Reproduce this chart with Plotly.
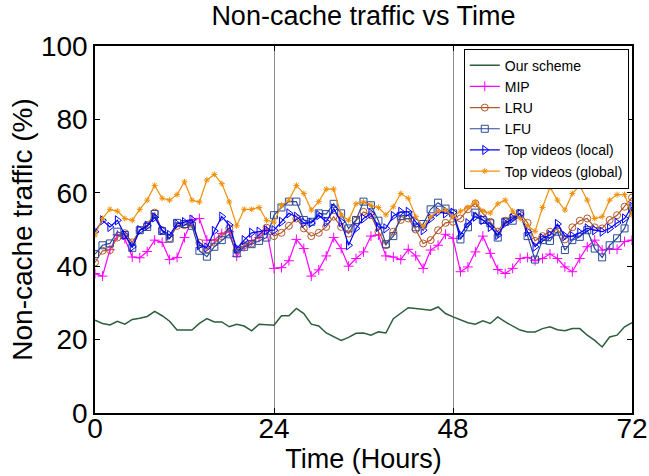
import plotly.graph_objects as go

hours = list(range(0, 73))

our_scheme = [25.3, 24.4, 24.0, 25.0, 24.2, 25.5, 25.8, 26.3, 27.7, 26.5, 25.0, 22.6, 22.6,
              22.6, 24.4, 25.7, 24.8, 24.8, 23.5, 24.2, 23.7, 22.4, 24.2, 24.0, 23.9,
              26.5, 26.5, 28.5, 27.1, 24.2, 23.7, 21.8, 20.7, 19.8, 20.6, 21.7, 21.8,
              21.2, 22.1, 21.8, 25.7, 27.3, 28.7, 28.5, 28.2, 28.0, 28.9, 27.1, 26.2,
              25.4, 24.6, 24.2, 25.1, 24.4, 26.2, 24.8, 23.7, 22.6, 22.1, 22.1, 23.0,
              23.5, 22.7, 22.4, 23.0, 23.0, 21.2, 19.8, 18.0, 20.7, 21.2, 23.5, 24.6]

mip = [38.0, 37.3, 44.5, 48.5, 47.5, 42.5, 42.3, 44.0, 47.1, 46.5, 41.8, 42.4, 47.8,
       52.6, 53.0, 47.1, 47.1, 48.9, 49.4, 42.7, 45.3, 46.9, 47.8, 49.8, 39.4,
       39.6, 41.5, 47.3, 44.8, 37.3, 39.0, 42.8, 47.8, 44.8, 40.0, 42.1, 43.9,
       48.2, 48.5, 42.8, 42.5, 41.8, 44.6, 42.8, 39.4, 44.4, 45.7, 48.7, 47.6,
       38.5, 39.8, 43.9, 48.2, 43.5, 39.1, 38.0, 39.4, 42.1, 42.4, 41.5, 42.1,
       43.3, 42.1, 39.8, 38.5, 42.1, 45.3, 47.1, 44.4, 44.6, 44.6, 46.7, 47.1]

lru = [41.0, 44.2, 44.4, 47.8, 49.0, 46.5, 49.8, 51.2, 54.6, 49.8, 47.6, 51.0, 51.2,
       51.5, 46.4, 44.6, 46.4, 48.2, 50.3, 44.4, 45.7, 46.2, 48.5, 50.5, 48.2,
       49.1, 51.0, 53.0, 50.3, 48.2, 49.1, 50.7, 53.5, 50.7, 48.9, 52.4, 54.8,
       53.9, 49.4, 45.7, 49.4, 52.6, 53.0, 50.0, 46.2, 47.1, 49.8, 51.8, 52.1,
       53.0, 55.5, 57.1, 54.4, 52.1, 49.4, 52.4, 53.5, 54.4, 51.8, 46.9, 48.2,
       49.4, 50.0, 47.3, 50.6, 52.4, 53.0, 50.6, 50.3, 52.6, 53.9, 56.2, 58.7]

lfu = [43.3, 45.7, 46.2, 49.4, 48.5, 45.0, 49.8, 50.7, 54.2, 49.6, 47.5, 51.8, 51.5,
       51.0, 44.2, 42.6, 45.3, 47.1, 48.7, 43.5, 45.3, 46.0, 46.9, 47.8, 53.9,
       56.0, 57.6, 57.6, 52.6, 52.1, 54.4, 54.2, 57.0, 54.4, 50.3, 52.6, 57.6,
       56.6, 52.4, 46.0, 48.2, 53.7, 53.9, 50.6, 51.5, 55.5, 57.3, 55.7, 54.4,
       47.3, 50.6, 54.6, 52.6, 51.7, 47.8, 52.1, 52.4, 54.4, 48.2, 41.8, 47.1,
       46.9, 49.4, 44.4, 47.1, 48.0, 49.8, 44.8, 42.4, 45.7, 47.6, 50.3, 55.7]

top_local = [49.4, 52.5, 50.7, 52.5, 48.5, 45.3, 49.8, 51.0, 53.3, 49.8, 48.5, 51.5, 52.0,
             52.7, 45.7, 45.1, 49.6, 53.5, 51.2, 44.8, 47.1, 49.1, 49.4, 49.8, 49.8,
             52.1, 54.4, 53.5, 51.8, 51.8, 53.9, 52.1, 55.7, 52.1, 45.7, 50.3, 53.0,
             54.4, 50.7, 50.3, 53.7, 54.8, 54.8, 52.1, 49.8, 53.0, 54.8, 54.4, 54.6,
             48.5, 51.7, 53.5, 52.6, 50.7, 48.5, 51.7, 53.0, 54.2, 49.4, 45.3, 47.6,
             48.5, 51.5, 48.2, 48.2, 49.1, 50.3, 49.8, 49.4, 50.3, 51.8, 53.0, 56.2]

top_global = [48.5, 53.0, 55.5, 55.0, 53.0, 52.5, 55.5, 58.0, 62.0, 58.5, 58.0, 59.5, 63.0,
              58.0, 57.5, 63.5, 65.0, 62.5, 57.5, 51.0, 55.5, 55.5, 56.0, 52.5, 52.0,
              56.6, 58.0, 62.0, 59.8, 55.3, 57.6, 61.0, 61.0, 54.0, 52.5, 57.0, 57.5,
              56.6, 56.0, 54.0, 56.2, 59.8, 58.5, 53.5, 50.7, 53.5, 55.0, 55.3, 53.5,
              55.0, 56.0, 57.5, 55.0, 54.5, 57.0, 58.0, 55.0, 53.0, 51.0, 49.5, 56.0,
              61.5, 58.0, 55.3, 59.8, 62.0, 58.0, 53.0, 53.5, 58.0, 59.5, 59.5, 54.0]

x_ticks = [0, 24, 48, 72]
y_ticks = [0, 20, 40, 60, 80, 100]

FONT = "Liberation Sans, Arial, sans-serif"

series = [
    ("Our scheme", our_scheme, "#2b5e3c", None, 0),
    ("MIP", mip, "#ff00ff", "cross-thin-open", 7),
    ("LRU", lru, "#b4582a", "circle-open", 7),
    ("LFU", lfu, "#2c4a9a", "square-open", 7),
    ("Top videos (local)", top_local, "#0000ff", "triangle-right-open", 8),
    ("Top videos (global)", top_global, "#f0900a", "asterisk-open", 5),
]

fig = go.Figure()
for name, ys, color, sym, size in series:
    if sym is None:
        fig.add_trace(go.Scatter(x=hours, y=ys, name=name, mode="lines",
                                 line=dict(color=color, width=1.5)))
    else:
        fig.add_trace(go.Scatter(x=hours, y=ys, name=name, mode="lines+markers",
                                 line=dict(color=color, width=1.2),
                                 marker=dict(symbol=sym, size=size, color=color,
                                             line=dict(color=color, width=1))))

fig.update_layout(
    width=649, height=476,
    margin=dict(l=95, r=17, t=46, b=63, autoexpand=False),
    paper_bgcolor="white", plot_bgcolor="white",
    font=dict(family=FONT, color="black"),
    title=dict(text="Non-cache traffic vs Time", font=dict(size=27, family=FONT, color="black"),
               x=0.56, xanchor="center", xref="container", y=0.968, yanchor="middle", yref="container"),
    showlegend=True,
    legend=dict(x=0.994, y=0.993, xanchor="right", yanchor="top",
                bgcolor="white", bordercolor="black", borderwidth=1,
                font=dict(size=14, family=FONT, color="black"),
                itemwidth=30, tracegroupgap=0),
    xaxis=dict(range=[0, 72], tickvals=x_ticks, ticktext=[str(v) for v in x_ticks],
               automargin=False,
               showline=True, linecolor="black", linewidth=1.5, mirror="ticks",
               ticks="inside", ticklen=5, tickcolor="black", ticklabelstandoff=-10,
               showgrid=True, gridcolor="#8a8a8a", gridwidth=1, zeroline=False,
               tickfont=dict(size=28, family=FONT, color="black"),
               title=dict(text="Time (Hours)", font=dict(size=27, family=FONT, color="black"), standoff=0)),
    yaxis=dict(range=[0, 100], tickvals=y_ticks, ticktext=[str(v) for v in y_ticks],
               automargin=False,
               showline=True, linecolor="black", linewidth=1.5, mirror="ticks",
               ticks="inside", ticklen=5, tickcolor="black",
               showgrid=False, zeroline=False,
               tickfont=dict(size=28, family=FONT, color="black"),
               title=dict(text="Non-cache traffic (%)", font=dict(size=28, family=FONT, color="black"), standoff=0)),
)

fig.write_html("out.html")
